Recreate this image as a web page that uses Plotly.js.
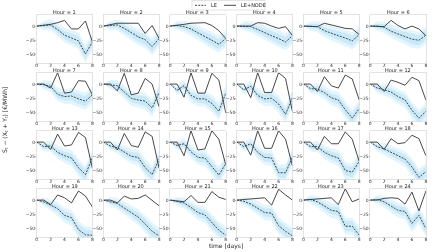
<!DOCTYPE html>
<html><head><meta charset="utf-8">
<script src="https://cdn.plot.ly/plotly-3.0.1.min.js"></script>
<style>html,body{margin:0;padding:0;background:#fff}#chart{width:448px;height:252px}
#chart .main-svg{will-change:transform}</style>
</head><body><div id="chart"></div>
<script>
// ---- data ----
const days = [0, 1, 2, 3, 4, 5, 6, 7, 8];
const hours = [1,2,3,4,5,6,7,8,9,10,11,12,13,14,15,16,17,18,19,20,21,22,23,24];
const xTicks = [0, 2, 4, 6, 8];
const yTicks = [0, -25, -50];
const seriesNames = ['LE', 'LE+NODE'];

// LE (dashed) per hour
const leSeries = [
  [0, 1, 2, -6, -16, -21, -26, -49, -28],
  [0, 1, 2, -4, -12, -19, -24, -36, -22],
  [0, 1, -1, -5, -12, -18, -25, -32, -22],
  [0, 0, -1, -6, -12, -17, -22, -28, -17],
  [0, 0, -1, -8, -13, -17, -21, -26, -15],
  [0, 0, -2, -9, -14, -18, -23, -25, -16],
  [0, -1, -4, -18, -22, -21, -26, -30, -19],
  [0, -1, -3, -14, -25, -28, -30, -42, -15],
  [0, -11, -3, -20, -26, -26, -34, -48, -16],
  [0, -10, -4, -20, -26, -25, -35, -53, -24],
  [0, -8, -9, -15, -24, -28, -45, -60, -43],
  [0, -7, -10, -14, -22, -28, -46, -60, -48],
  [0, -8, -7, -18, -24, -28, -45, -57, -28],
  [0, -7, -10, -18, -25, -27, -45, -57, -30],
  [0, -6, -3, -17, -27, -28, -43, -58, -38],
  [0, -8, -3, -18, -27, -28, -54, -54, -26],
  [0, -8, -8, -18, -24, -28, -50, -53, -34],
  [0, -8, -12, -18, -24, -30, -44, -62, -52],
  [0, -3, -9, -15, -27, -31, -52, -61, -62],
  [0, -3, -6, -14, -22, -30, -42, -55, -63],
  [0, -2, -5, -13, -22, -26, -40, -53, -62],
  [0, -2, -7, -14, -22, -23, -45, -55, -63],
  [0, 1, -3, -11, -18, -20, -46, -46, -62],
  [0, 1, -3, -11, -18, -20, -41, -27, -50]
];
// LE+NODE (solid) per hour
const nodeSeries = [
  [0, 1, 3, 6, 10, -5, -5, 9, -28],
  [0, 2, 5, 5, 5, 5, -13, 1, -22],
  [0, 1, 3, 5, 5, 6, 1, -8, -22],
  [0, 0, 0, 6, 5, 0, -4, -1, -17],
  [0, 0, -1, 5, 2, -1, -4, -5, -15],
  [0, 0, -1, 10, 1, -5, 0, -5, -17],
  [0, 0, -7, 20, -16, -14, 6, 5, -19],
  [0, 0, -12, 19, -19, -16, 10, 0, -40],
  [0, 0, -23, 20, -16, -16, 19, 7, -51],
  [0, 0, -24, 20, -15, -15, 20, 10, -49],
  [0, 0, -13, 13, -3, -7, 16, 9, -28],
  [0, 0, -13, 7, 3, -2, 12, 6, -28],
  [0, 0, -13, 14, -7, -5, 17, 8, -46],
  [0, 0, -14, 15, -6, -9, 18, 10, -46],
  [0, 0, -24, 20, -14, -12, 20, 5, -40],
  [0, 0, -23, 20, -11, -11, 20, 5, -42],
  [0, 0, -14, 10, -3, -3, 18, 5, -34],
  [0, 0, -13, 6, -3, -1, 12, 6, -24],
  [0, 0, -8, 9, 4, -5, 16, 7, -12],
  [0, 0, -5, 7, 2, 3, 9, 0, -10],
  [0, -1, -3, 8, -4, -4, 15, 5, 1],
  [0, 1, 2, 3, 4, -9, 19, 9, 0],
  [0, 1, 3, 4, 4, -8, 20, -3, 2],
  [0, 0, 3, 4, 3, -7, 14, -19, 16]
];
// half-widths of the uncertainty bands around LE
const innerHalfWidth = [0, 4, 5, 6, 7, 8, 9, 9, 9];
const outerHalfWidth = [0, 8, 10, 12, 13, 14, 15, 15, 15];

// ---- layout geometry ----
const W = 448, H = 252;
const colLeft = 36.7, colStep = 66.7, plotW = 55.7;
const rowTop = 15, rowStep = 58, plotH = 48;
const yRange = [-65, 19.5];
const lineColor = '#333';

const traces = [];
const layout = {
  width: W, height: H,
  margin: {l: 0, r: 0, t: 0, b: 0},
  paper_bgcolor: '#fff', plot_bgcolor: '#fff',
  font: {family: 'DejaVu Sans, sans-serif', size: 5, color: '#222'},
  showlegend: false,
  annotations: [],
  shapes: []
};

function band(le, hw) {
  const up = le.map((v, i) => v + hw[i]);
  const lo = le.map((v, i) => v - hw[i]);
  return {x: days.concat(days.slice().reverse()), y: up.concat(lo.slice().reverse())};
}

const axisCommon = {
  ticks: 'outside', ticklen: 1, tickwidth: 0.5, tickcolor: '#888',
  showline: true, mirror: true, linecolor: '#cfcfcf', linewidth: 0.6,
  showgrid: false, zeroline: false, tickfont: {size: 4.5, color: '#333'}
};

hours.forEach((h, k) => {
  const r = Math.floor(k / 6), c = k % 6;
  const n = k + 1;
  const xa = 'x' + (n === 1 ? '' : n), ya = 'y' + (n === 1 ? '' : n);
  const xk = 'xaxis' + (n === 1 ? '' : n), yk = 'yaxis' + (n === 1 ? '' : n);
  const left = colLeft + c * colStep, top = rowTop + r * rowStep;
  layout[xk] = Object.assign({}, axisCommon, {
    domain: [left / W, (left + plotW) / W], anchor: ya, range: [0, 8],
    tickvals: xTicks, ticklabelstandoff: -3
  });
  layout[yk] = Object.assign({}, axisCommon, {
    domain: [1 - (top + plotH) / H, 1 - top / H], anchor: xa, range: yRange,
    tickvals: yTicks, ticklabelstandoff: -1
  });
  const le = leSeries[k], node = nodeSeries[k];
  const bo = band(le, outerHalfWidth), bi = band(le, innerHalfWidth);
  traces.push({x: bo.x, y: bo.y, xaxis: xa, yaxis: ya, type: 'scatter', mode: 'lines',
    fill: 'toself', fillcolor: '#e5f5fd', line: {width: 0}, hoverinfo: 'skip'});
  traces.push({x: bi.x, y: bi.y, xaxis: xa, yaxis: ya, type: 'scatter', mode: 'lines',
    fill: 'toself', fillcolor: '#cbeaf9', line: {width: 0}, hoverinfo: 'skip'});
  traces.push({x: days, y: le, xaxis: xa, yaxis: ya, type: 'scatter', mode: 'lines',
    name: seriesNames[0], line: {color: lineColor, width: 0.9, dash: '2px,1.2px'}});
  traces.push({x: days, y: node, xaxis: xa, yaxis: ya, type: 'scatter', mode: 'lines',
    name: seriesNames[1], line: {color: lineColor, width: 0.9}});
  layout.annotations.push({
    text: 'Hour = ' + h, xref: 'paper', yref: 'paper',
    x: (left + plotW / 2) / W, y: 1 - (top - 2.8) / H, xanchor: 'center', yanchor: 'middle',
    showarrow: false, borderpad: 0, font: {size: 5, color: '#222'}
  });
});

// custom compact legend (paper pixel positions)
const px = v => v / W, py = v => 1 - v / H;
layout.shapes.push({type: 'rect', xref: 'paper', yref: 'paper', x0: px(192), x1: px(265), y0: py(0.5), y1: py(10),
  line: {color: '#d0d0d0', width: 0.6}, fillcolor: 'rgba(255,255,255,0.9)'});
layout.shapes.push({type: 'line', xref: 'paper', yref: 'paper', x0: px(195), x1: px(206), y0: py(5.3), y1: py(5.3),
  line: {color: lineColor, width: 0.9, dash: '2px,1.2px'}});
layout.shapes.push({type: 'line', xref: 'paper', yref: 'paper', x0: px(224), x1: px(236), y0: py(5.3), y1: py(5.3),
  line: {color: lineColor, width: 0.9}});
layout.annotations.push({text: seriesNames[0], xref: 'paper', yref: 'paper', x: px(209), y: py(5.3),
  xanchor: 'left', yanchor: 'middle', showarrow: false, font: {size: 5, color: '#222'}});
layout.annotations.push({text: seriesNames[1], xref: 'paper', yref: 'paper', x: px(239), y: py(5.3),
  xanchor: 'left', yanchor: 'middle', showarrow: false, font: {size: 5, color: '#222'}});

layout.annotations.push({
  text: 'time [days]', xref: 'paper', yref: 'paper', x: 226 / W, y: 1 - 246 / H,
  xanchor: 'center', yanchor: 'middle', showarrow: false, font: {size: 6, color: '#222'}
});
layout.annotations.push({
  text: 'S<sub>t</sub> − (X<sub>t</sub> + Y<sub>t</sub>) [€/MWh]', xref: 'paper', yref: 'paper',
  x: 5 / W, y: 1 - 120 / H, xanchor: 'center', yanchor: 'middle', textangle: -90,
  showarrow: false, font: {size: 6, color: '#222'}
});

Plotly.newPlot('chart', traces, layout, {staticPlot: true, displayModeBar: false});
</script>
</body></html>
